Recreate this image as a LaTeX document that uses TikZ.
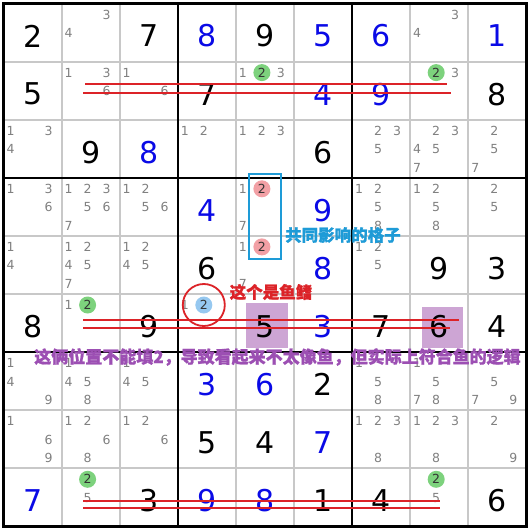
\documentclass[tikz,border=0pt]{standalone}
\usepackage{fontspec}
\setmainfont{DejaVu Sans}
\newfontfamily\cjk[BoldFeatures={FakeBold=1.2}]{Noto Sans CJK SC}
\definecolor{thin}{RGB}{200,200,200}
\definecolor{cand}{RGB}{128,128,128}
\definecolor{solved}{RGB}{10,10,230}
\definecolor{redl}{RGB}{220,35,40}
\definecolor{bluet}{RGB}{30,155,215}
\definecolor{purt}{RGB}{156,79,179}
\definecolor{purbg}{RGB}{205,165,212}
\definecolor{gmark}{RGB}{125,210,125}
\definecolor{pmark}{RGB}{242,160,165}
\definecolor{bmark}{RGB}{150,200,240}
\tikzset{
  bigd/.style={inner sep=0pt,font=\fontsize{30}{30}\selectfont},
  candd/.style={inner sep=0pt,text=cand,font=\fontsize{12.5}{12.5}\selectfont},
  markd/.style={circle,inner sep=0pt,minimum size=17pt,text=black!80,font=\fontsize{12.5}{12.5}\selectfont},
  thinline/.style={draw=thin,line width=1.8pt},
  thickline/.style={draw=black,line width=2.4pt},
  fishline/.style={draw=redl,line width=1.8pt},
  note/.style={inner sep=0pt,font=\cjk\bfseries\fontsize{16.5}{16.5}\selectfont}
}
\newcommand{\BigD}[4]{\node[bigd,text=#4] (b#1#2) at ({3.5+(#2-0.5)*58.1},{3.5+(#1-0.5)*58.1+3.5}) {#3};}
\newcommand{\Cand}[3]{\foreach \d in {#3}{%
  \pgfmathsetmacro\cx{mod(\d-1,3)}\pgfmathsetmacro\cy{int((\d-1)/3)}%
  \node[candd] (c#1#2\d) at ({3.5+(#2-1)*58.1+7+\cx*19},{3.5+(#1-1)*58.1+11+\cy*18.5}) {\d};}}
\newcommand{\MarkD}[4]{%
  \pgfmathsetmacro\cx{mod(#3-1,3)}\pgfmathsetmacro\cy{int((#3-1)/3)}%
  \node[markd,fill=#4] (m#1#2) at ({3.5+(#2-1)*58.1+7+\cx*19},{3.5+(#1-1)*58.1+11+\cy*18.5}) {#3};}
\begin{document}
\begin{tikzpicture}[x=1pt,y=-1pt]
\useasboundingbox (0,0) rectangle (530,530);
\fill[white] (0,0) rectangle (530,530);
% highlighted cells
\fill[purbg] (246,303) rectangle (288,348);
\fill[purbg] (422,307) rectangle (463,348);
% grid
\foreach \k in {1,2,4,5,7,8}{
  \draw[thinline] ({3.5+\k*58.1},3.5) -- ({3.5+\k*58.1},526.4);
  \draw[thinline] (3.5,{3.5+\k*58.1}) -- (526.4,{3.5+\k*58.1});
}
\foreach \k in {3,6}{
  \draw[thickline] ({3.5+\k*58.1},3.5) -- ({3.5+\k*58.1},526.4);
  \draw[thickline] (3.5,{3.5+\k*58.1}) -- (526.4,{3.5+\k*58.1});
}
\draw[draw=black,line width=3pt] (3.5,3.5) rectangle (526.4,526.4);
% givens (black)
\BigD{1}{1}{2}{black}\BigD{1}{3}{7}{black}\BigD{1}{5}{9}{black}
\BigD{2}{1}{5}{black}\BigD{2}{4}{7}{black}\BigD{2}{9}{8}{black}
\BigD{3}{2}{9}{black}\BigD{3}{6}{6}{black}
\BigD{5}{4}{6}{black}\BigD{5}{8}{9}{black}\BigD{5}{9}{3}{black}
\BigD{6}{1}{8}{black}\BigD{6}{3}{9}{black}\BigD{6}{5}{5}{black}\BigD{6}{7}{7}{black}\BigD{6}{8}{6}{black}\BigD{6}{9}{4}{black}
\BigD{7}{6}{2}{black}
\BigD{8}{4}{5}{black}\BigD{8}{5}{4}{black}
\BigD{9}{3}{3}{black}\BigD{9}{6}{1}{black}\BigD{9}{7}{4}{black}\BigD{9}{9}{6}{black}
% solved (blue)
\BigD{1}{4}{8}{solved}\BigD{1}{6}{5}{solved}\BigD{1}{7}{6}{solved}\BigD{1}{9}{1}{solved}
\BigD{2}{6}{4}{solved}\BigD{2}{7}{9}{solved}
\BigD{3}{3}{8}{solved}
\BigD{4}{4}{4}{solved}\BigD{4}{6}{9}{solved}
\BigD{5}{6}{8}{solved}
\BigD{6}{6}{3}{solved}
\BigD{7}{4}{3}{solved}\BigD{7}{5}{6}{solved}
\BigD{8}{6}{7}{solved}
\BigD{9}{1}{7}{solved}\BigD{9}{4}{9}{solved}\BigD{9}{5}{8}{solved}
% candidates
\Cand{1}{2}{3,4}\Cand{1}{8}{3,4}
\Cand{2}{2}{1,3,6}\Cand{2}{3}{1,6}\Cand{2}{5}{1,3}\Cand{2}{8}{3}
\Cand{3}{1}{1,3,4}\Cand{3}{4}{1,2}\Cand{3}{5}{1,2,3}\Cand{3}{7}{2,3,5}\Cand{3}{8}{2,3,4,5,7}\Cand{3}{9}{2,5,7}
\Cand{4}{1}{1,3,6}\Cand{4}{2}{1,2,3,5,6,7}\Cand{4}{3}{1,2,5,6}\Cand{4}{5}{1,7}\Cand{4}{7}{1,2,5,8}\Cand{4}{8}{1,2,5,8}\Cand{4}{9}{2,5}
\Cand{5}{1}{1,4}\Cand{5}{2}{1,2,4,5,7}\Cand{5}{3}{1,2,4,5}\Cand{5}{5}{1,7}\Cand{5}{7}{1,2,5}
\Cand{6}{2}{1}\Cand{6}{4}{1}
\Cand{7}{1}{1,4,9}\Cand{7}{2}{1,4,5,8}\Cand{7}{3}{1,4,5}\Cand{7}{7}{1,5,8}\Cand{7}{8}{1,5,7,8}\Cand{7}{9}{5,7,9}
\Cand{8}{1}{1,6,9}\Cand{8}{2}{1,2,6,8}\Cand{8}{3}{1,2,6}\Cand{8}{7}{1,2,3,8}\Cand{8}{8}{1,2,3,8}\Cand{8}{9}{2,9}
\Cand{9}{2}{5}\Cand{9}{8}{5}
% marked candidates
\MarkD{2}{5}{2}{gmark}\MarkD{2}{8}{2}{gmark}
\MarkD{6}{2}{2}{gmark}\MarkD{9}{2}{2}{gmark}\MarkD{9}{8}{2}{gmark}
\MarkD{4}{5}{2}{pmark}\MarkD{5}{5}{2}{pmark}
\MarkD{6}{4}{2}{bmark}
% fish lines
\draw[fishline] (85,84) -- (447,84);
\draw[fishline] (83,93) -- (451,93);
\draw[fishline] (83,320) -- (459,320);
\draw[fishline] (83,328) -- (450,328);
\draw[fishline] (83,501) -- (440,501);
\draw[fishline] (83,508) -- (440,508);
% fin circle and shared cells box
\node[circle,draw=redl,line width=1.8pt,minimum size=42pt,inner sep=0pt] (fin) at (m64) {};
\node[draw=bluet,line width=1.8pt,minimum width=32pt,minimum height=85pt,inner sep=0pt] (shared) at (265,216.5) {};
% notes
\node[note,text=redl] (finlabel) at (271,292) {这个是鱼鳍};
\node[note,text=bluet,anchor=west] (sharedlabel) at (285,235) {共同影响的格子};
\node[note,text=purt,font=\cjk\bfseries\fontsize{17}{17}\selectfont] (explain) at (277.5,357) {这俩位置不能填2，导致看起来不太像鱼，但实际上符合鱼的逻辑};
\end{tikzpicture}
\end{document}
